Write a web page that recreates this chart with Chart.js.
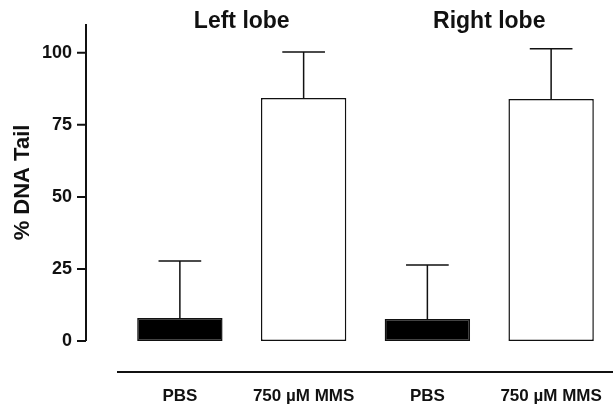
<!DOCTYPE html>
<html>
<head>
<meta charset="utf-8">
<script src="https://cdn.jsdelivr.net/npm/chart.js@4/dist/chart.umd.min.js"></script>
<style>
    body { margin: 0; background: #fff; overflow: hidden; }
</style>
</head>
<body>
<canvas id="tailChart" width="613" height="404"></canvas>
<script>
const groups = ['Left lobe', 'Right lobe'];
const labels = ['PBS', '750 µM MMS', 'PBS', '750 µM MMS'];
const means = [8.0, 84.3, 7.6, 84.0];
const sd = [19.8, 16.0, 18.8, 17.4];
const yTicks = [0, 25, 50, 75, 100];

const FONT = "'Liberation Sans', Arial, sans-serif";

// detached axes, error bars and lobe titles
const extras = {
    id: 'extras',
    afterDatasetsDraw(chart) {
        const ctx = chart.ctx;
        const x = chart.scales.x;
        const y = chart.scales.y;
        const area = chart.chartArea;
        const bars = chart.getDatasetMeta(0).data;

        ctx.save();
        ctx.strokeStyle = '#111';

        // error bars (upper only)
        ctx.lineWidth = 1.5;
        bars.forEach((bar, i) => {
            const top = y.getPixelForValue(means[i] + sd[i]);
            const base = y.getPixelForValue(means[i]);
            const half = bar.width / 4;
            ctx.beginPath();
            ctx.moveTo(bar.x, base);
            ctx.lineTo(bar.x, top);
            ctx.moveTo(bar.x - half, top);
            ctx.lineTo(bar.x + half, top);
            ctx.stroke();
        });

        // y axis, pulled away from the bars
        const ax = area.left - 32;
        ctx.lineWidth = 2;
        ctx.beginPath();
        ctx.moveTo(ax, y.getPixelForValue(y.max));
        ctx.lineTo(ax, y.getPixelForValue(0));
        yTicks.forEach(t => {
            const ty = y.getPixelForValue(t);
            ctx.moveTo(ax - 9, ty);
            ctx.lineTo(ax, ty);
        });
        ctx.stroke();

        // x axis line below the zero level
        const bx = area.bottom + 31;
        ctx.beginPath();
        ctx.moveTo(area.left - 1, bx);
        ctx.lineTo(chart.width, bx);
        ctx.stroke();

        // lobe titles over each pair
        ctx.fillStyle = '#111';
        ctx.font = 'bold 23px ' + FONT;
        ctx.textAlign = 'center';
        ctx.textBaseline = 'middle';
        groups.forEach((g, i) => {
            const cx = (x.getPixelForValue(i * 2) + x.getPixelForValue(i * 2 + 1)) / 2;
            ctx.fillText(g, cx, 22);
        });
        ctx.restore();
    }
};

const ctxTail = document.getElementById('tailChart');

new Chart(ctxTail, {
    type: 'bar',
    data: {
        labels: labels,
        datasets: [{
            label: '% DNA Tail',
            data: means,
            backgroundColor: ['#000', '#fff', '#000', '#fff'],
            borderColor: '#111',
            borderWidth: 1.5,
            borderSkipped: false,
            barPercentage: 0.69,
            categoryPercentage: 1.0
        }]
    },
    options: {
        responsive: false,
        animation: false,
        layout: {
            padding: { top: 24, right: 0, bottom: 0, left: 0 }
        },
        plugins: {
            legend: { display: false },
            tooltip: { enabled: false }
        },
        scales: {
            x: {
                grid: { display: false, drawTicks: false },
                border: { display: false },
                ticks: {
                    color: '#111',
                    padding: 45,
                    maxRotation: 0,
                    font: { family: FONT, size: 17, weight: 'bold' }
                },
                afterFit(scale) {
                    scale.height = 63;
                    scale.paddingLeft = 0;
                    scale.paddingRight = 0;
                }
            },
            y: {
                min: 0,
                max: 110,
                grid: { display: false, drawTicks: false },
                border: { display: false },
                afterBuildTicks(scale) {
                    scale.ticks = yTicks.map(v => ({ value: v }));
                },
                ticks: {
                    color: '#111',
                    padding: 46,
                    font: { family: FONT, size: 18, weight: 'bold' }
                },
                title: {
                    display: true,
                    text: '% DNA Tail',
                    color: '#111',
                    padding: { top: 10, bottom: 0 },
                    font: { family: FONT, size: 22, weight: 'bold' }
                },
                afterFit(scale) {
                    scale.width = 118;
                    scale.paddingTop = 0;
                    scale.paddingBottom = 0;
                }
            }
        }
    },
    plugins: [extras]
});
</script>
</body>
</html>
